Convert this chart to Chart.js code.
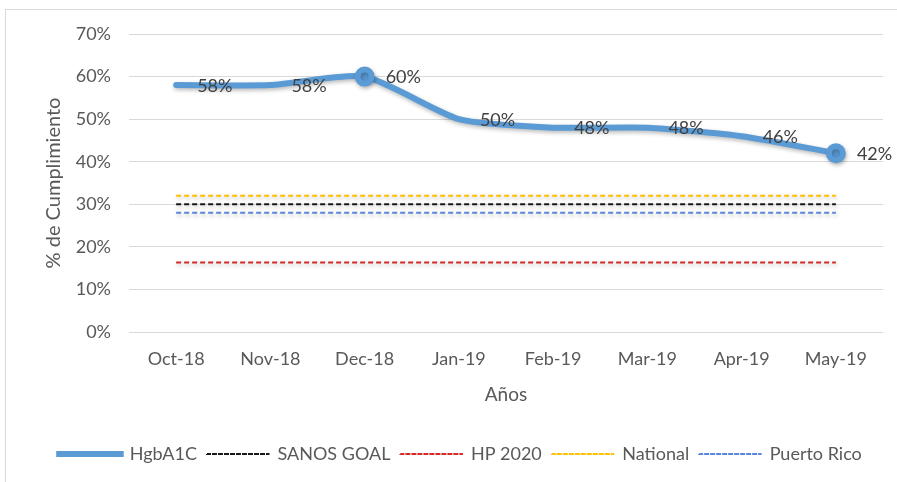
<!DOCTYPE html>
<html>
<head>
<meta charset="utf-8">
<script src="https://cdn.jsdelivr.net/npm/chart.js@4/dist/chart.umd.min.js"></script>
<style>
  html,body{margin:0;padding:0;background:#fff;}
  #wrap{position:relative;width:897px;height:482px;}
  #frame{position:absolute;left:5px;top:9px;right:0;bottom:0;border-left:1px solid #d9d9d9;border-top:1px solid #d9d9d9;}
  canvas{position:absolute;left:0;top:0;}
</style>
</head>
<body>
<div id="wrap"><div id="frame"></div><canvas id="c" width="897" height="482"></canvas></div>
<script>
const categories = ['Oct-18','Nov-18','Dec-18','Jan-19','Feb-19','Mar-19','Apr-19','May-19'];
const hgbA1C     = [58, 58, 60, 50, 48, 48, 46, 42];
const sanosGoal  = [30, 30, 30, 30, 30, 30, 30, 30];
const hp2020     = [16.3, 16.3, 16.3, 16.3, 16.3, 16.3, 16.3, 16.3];
const national   = [32, 32, 32, 32, 32, 32, 32, 32];
const puertoRico = [28, 28, 28, 28, 28, 28, 28, 28];
const yTicks     = [0, 10, 20, 30, 40, 50, 60, 70];

const FONT = 'Lato';
const TXT = '#595959';

const shadowPlugin = {
  id: 'shadow',
  beforeDatasetDraw(chart) {
    const ctx = chart.ctx;
    ctx.save();
    ctx.shadowColor = 'rgba(0,0,0,0.28)';
    ctx.shadowBlur = 4;
    ctx.shadowOffsetX = 1;
    ctx.shadowOffsetY = 2;
  },
  afterDatasetDraw(chart) { chart.ctx.restore(); }
};

const labelPlugin = {
  id: 'pointLabels',
  afterDatasetsDraw(chart) {
    const ctx = chart.ctx;
    const meta = chart.getDatasetMeta(0);
    ctx.save();
    ctx.font = '18px ' + FONT;
    ctx.fillStyle = '#404040';
    ctx.textAlign = 'left';
    ctx.textBaseline = 'middle';
    meta.data.forEach((pt, i) => {
      ctx.fillText(hgbA1C[i] + '%', pt.x + 21, pt.y + 1);
    });
    ctx.restore();
  }
};

const dash = [5, 3];
const legendDash = [4, 2];
new Chart(document.getElementById('c'), {
  type: 'line',
  data: {
    labels: categories,
    datasets: [
      { label: 'HgbA1C', data: hgbA1C, borderColor: '#5b9bd5', backgroundColor: '#5b9bd5', borderWidth: 6,
        tension: 0.2, pointRadius: [0,0,7,0,0,0,0,7], pointHoverRadius: 7, borderCapStyle: 'round', borderJoinStyle: 'round' },
      { label: 'SANOS GOAL', data: sanosGoal, borderColor: '#1a1a1a', backgroundColor: '#1a1a1a', borderWidth: 2, borderDash: dash, pointRadius: 0 },
      { label: 'HP 2020', data: hp2020, borderColor: '#d42a2a', backgroundColor: '#d42a2a', borderWidth: 2, borderDash: dash, pointRadius: 0 },
      { label: 'National', data: national, borderColor: '#ffc000', backgroundColor: '#ffc000', borderWidth: 2, borderDash: dash, pointRadius: 0 },
      { label: 'Puerto Rico', data: puertoRico, borderColor: '#5b86e0', backgroundColor: '#5b86e0', borderWidth: 2, borderDash: dash, pointRadius: 0 }
    ]
  },
  options: {
    responsive: false,
    animation: false,
    layout: { padding: { left: 38, right: 14, top: 34, bottom: 9 } },
    plugins: {
      legend: {
        position: 'bottom',
        labels: {
          boxWidth: 61.5, boxHeight: 0.01, padding: 10,
          font: { family: FONT, size: 18 }, color: TXT,
          generateLabels(chart) {
            return chart.data.datasets.map((ds, i) => ({
              text: ds.label, fillStyle: 'rgba(0,0,0,0)', strokeStyle: ds.borderColor,
              lineWidth: ds.borderWidth, lineDash: ds.borderDash ? legendDash : [], lineCap: 'butt',
              fontColor: TXT, hidden: false, datasetIndex: i
            }));
          }
        }
      },
      tooltip: { enabled: false }
    },
    scales: {
      x: {
        offset: true,
        afterFit(s) { s.height = 103; },
        grid: { display: false, drawTicks: false },
        border: { display: false },
        ticks: { padding: 16, font: { family: FONT, size: 18 }, color: TXT, maxRotation: 0 },
        title: { display: true, text: 'Años', font: { family: FONT, size: 19 }, color: TXT, padding: { top: 0, bottom: 29 } }
      },
      y: {
        min: 0, max: 70,
        afterFit(s) { s.width = 91; },
        afterBuildTicks(s) { s.ticks = yTicks.map(v => ({ value: v })); },
        grid: { color: '#d9d9d9', lineWidth: 1, drawTicks: false },
        border: { display: false },
        ticks: { padding: 18, font: { family: FONT, size: 18 }, color: TXT, callback: v => v + '%' },
        title: { display: true, text: '% de Cumplimiento', font: { family: FONT, size: 20 }, color: TXT, padding: { top: 4, bottom: 0 } }
      }
    }
  },
  plugins: [shadowPlugin, labelPlugin]
});
</script>
</body>
</html>
